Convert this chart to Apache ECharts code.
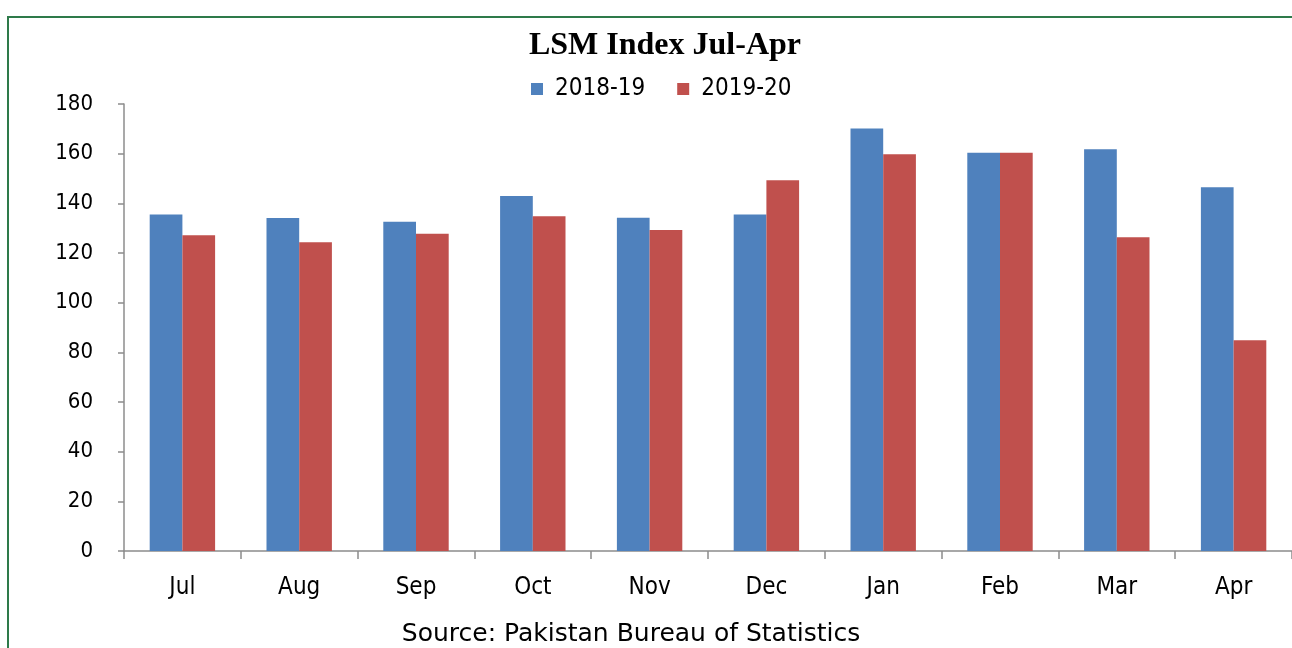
<!DOCTYPE html>
<html>
<head>
<meta charset="utf-8">
<script src="https://cdn.jsdelivr.net/npm/echarts@6/dist/echarts.min.js"></script>
<style>
  html, body { margin: 0; padding: 0; background: #fff; }
  #chart { width: 1292px; height: 648px; }
</style>
</head>
<body>
<div id="chart"></div>
<script>
var months = ['Jul', 'Aug', 'Sep', 'Oct', 'Nov', 'Dec', 'Jan', 'Feb', 'Mar', 'Apr'];
var fy2019 = [135.5, 134.1, 132.6, 143.0, 134.2, 135.5, 170.1, 160.4, 161.8, 146.5];
var fy2020 = [127.1, 124.3, 127.8, 134.8, 129.3, 149.3, 159.8, 160.4, 126.3, 84.9];

var labelFont = '"DejaVu Sans Condensed", "DejaVu Sans", sans-serif';

var myChart = echarts.init(document.getElementById('chart'));
myChart.setOption({
  backgroundColor: '#fff',
  animation: false,
  title: {
    text: 'LSM Index Jul-Apr',
    left: 660,
    top: 25,
    textAlign: 'center',
    textStyle: {
      fontFamily: '"Liberation Serif", serif',
      fontWeight: 'bold',
      fontSize: 32,
      color: '#000'
    }
  },
  legend: {
    top: 72,
    left: 526,
    itemWidth: 12,
    itemHeight: 12,
    itemGap: 32,
    icon: 'rect',
    textStyle: { fontFamily: labelFont, fontSize: 24, color: '#000', padding: [0, 0, 0, 7] },
    data: ['2018-19', '2019-20']
  },
  graphic: [
    {
      type: 'polyline',
      shape: { points: [[8, 648], [8, 17], [1292, 17]] },
      style: { stroke: '#2e7a4a', lineWidth: 2, fill: null },
      silent: true
    },
    {
      type: 'text',
      x: 631,
      y: 622,
      style: {
        text: 'Source: Pakistan Bureau of Statistics',
        font: '25px "DejaVu Sans", sans-serif',
        fill: '#000',
        align: 'center'
      },
      silent: true
    }
  ],
  grid: { left: 124, right: 0, top: 104, bottom: 97 },
  xAxis: {
    type: 'category',
    data: months,
    axisLine: { lineStyle: { color: '#8c8c8c', width: 1.5 } },
    axisTick: { show: true, length: 8, lineStyle: { color: '#8c8c8c', width: 1.5 } },
    axisLabel: { fontFamily: labelFont, fontSize: 24, color: '#000', margin: 25 }
  },
  yAxis: {
    type: 'value',
    min: 0,
    max: 180,
    interval: 20,
    splitLine: { show: false },
    axisLine: { show: true, lineStyle: { color: '#8c8c8c', width: 1.5 } },
    axisTick: { show: true, length: 6, lineStyle: { color: '#8c8c8c', width: 1.5 } },
    axisLabel: { fontFamily: labelFont, fontSize: 22, color: '#000', margin: 31 }
  },
  series: [
    {
      name: '2018-19',
      type: 'bar',
      data: fy2019,
      barGap: '0%',
      barCategoryGap: '44%',
      itemStyle: { color: '#4f81bd' }
    },
    {
      name: '2019-20',
      type: 'bar',
      data: fy2020,
      itemStyle: { color: '#c0504d' }
    }
  ]
});
</script>
</body>
</html>
